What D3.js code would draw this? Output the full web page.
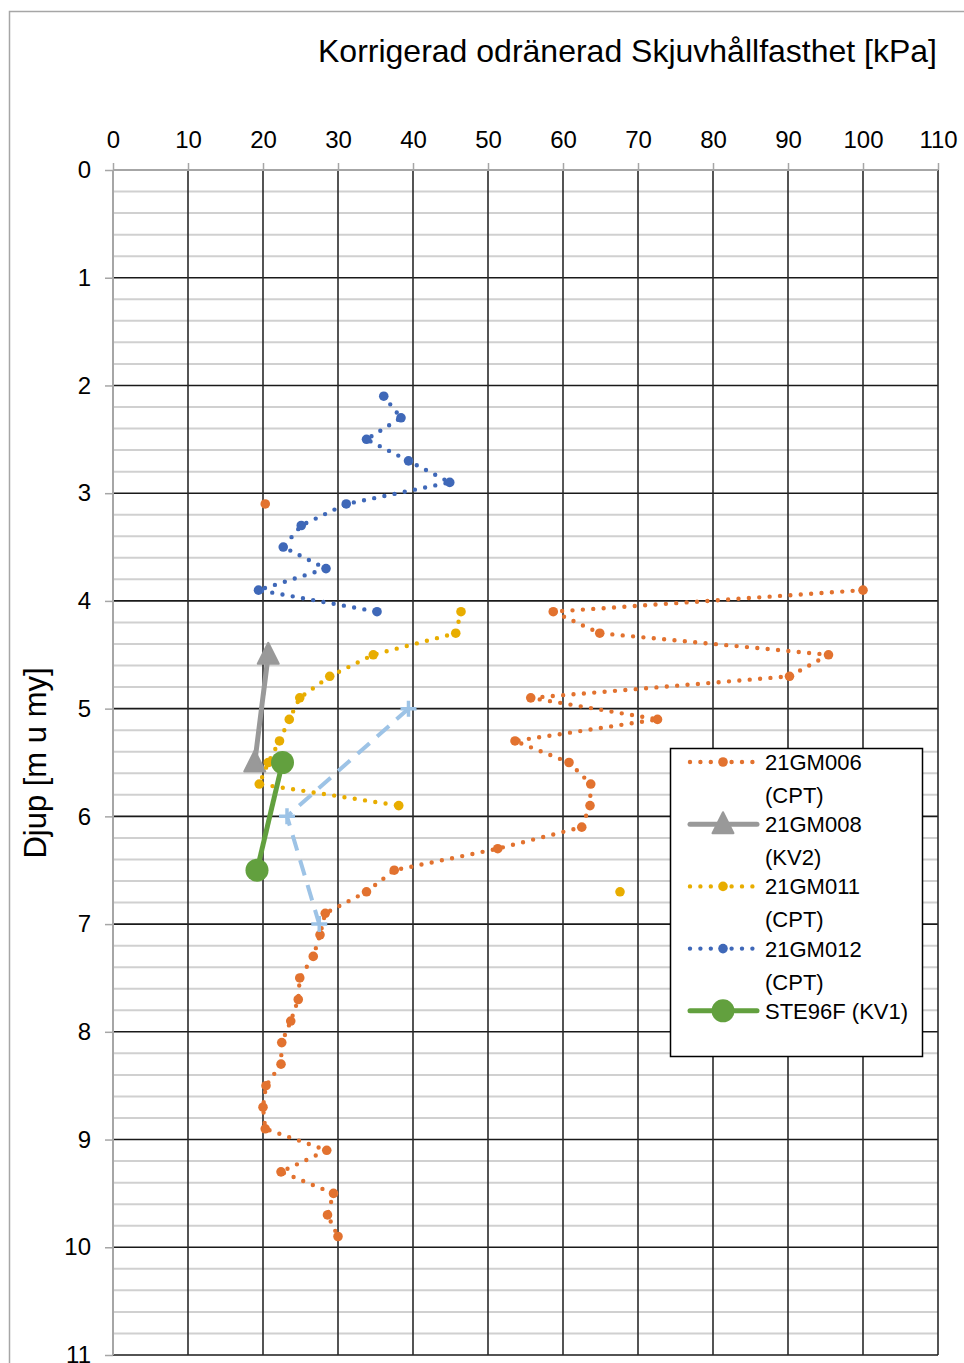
<!DOCTYPE html>
<html>
<head>
<meta charset="utf-8">
<script src="https://cdn.jsdelivr.net/npm/d3@7"></script>
<style>
body { margin: 0; background: #fff; }
text { font-family: "Liberation Sans", Arial, sans-serif; fill: #000; }
</style>
</head>
<body>
<script>
// axis ticks
var xTicks = [0, 10, 20, 30, 40, 50, 60, 70, 80, 90, 100, 110];
var yTicks = [0, 1, 2, 3, 4, 5, 6, 7, 8, 9, 10, 11];

// 21GM006 (CPT)
var depth006 = [3.1, 3.3, 3.5, 3.7, 3.9, 4.1, 4.3, 4.5, 4.7, 4.9, 5.1, 5.3, 5.5, 5.7, 5.9, 6.1, 6.3, 6.5,
	6.7, 6.9, 7.1, 7.3, 7.5, 7.7, 7.9, 8.1, 8.3, 8.5, 8.7, 8.9, 9.1, 9.3, 9.5, 9.7, 9.9];
var su006 = [20.3, null, null, null, 100, 58.7, 64.9, 95.4, 90.2, 55.7, 72.6, 53.6, 60.8, 63.7, 63.6, 62.5, 51.3, 37.5,
	33.8, 28.3, 27.6, 26.7, 24.9, 24.7, 23.7, 22.5, 22.4, 20.4, 20.0, 20.3, 28.5, 22.4, 29.4, 28.6, 30.0];

// 21GM008 (KV2)
var depth008 = [4.5, 5.5];
var su008 = [20.7, 18.9];

// 21GM011 (CPT)
var depth011 = [4.1, 4.3, 4.5, 4.7, 4.9, 5.1, 5.3, 5.5, 5.7, 5.9, 6.1, 6.3, 6.5, 6.7];
var su011 = [46.4, 45.7, 34.7, 28.9, 24.9, 23.5, 22.2, 20.7, 19.5, 38.1, null, null, null, 67.6];

// 21GM012 (CPT)
var depth012 = [2.1, 2.3, 2.5, 2.7, 2.9, 3.1, 3.3, 3.5, 3.7, 3.9, 4.1];
var su012 = [36.1, 38.4, 33.8, 39.4, 44.9, 31.1, 25.1, 22.7, 28.4, 19.4, 35.2];

// STE96F (KV1)
var depthSTE = [5.5, 6.5];
var suSTE = [22.6, 19.2];

// extra series, not in legend
var depthExtra = [5.0, 6.0, 7.0];
var suExtra = [39.4, 23.2, 27.5];

var width = 964;
var height = 1363;

var svg = d3
	.select("body")
	.append("svg")
	.attr("width", width)
	.attr("height", height);

svg.append("rect").attr("width", width).attr("height", height).attr("fill", "#fff");

// chart area border
svg.append("rect")
	.attr("x", 9.5).attr("y", 11.5)
	.attr("width", 1000).attr("height", 1400)
	.attr("fill", "none")
	.attr("stroke", "#a6a6a6")
	.attr("stroke-width", 1.5);

var x = d3.scaleLinear().domain([0, 110]).range([113, 938]);
var y = d3.scaleLinear().domain([0, 11]).range([170, 1355]);

// minor horizontal gridlines
var minor = d3.range(0, 55).map(function (i) { return i * 0.2; })
	.filter(function (v) { return Math.abs(v - Math.round(v)) > 0.01; });
svg.append("g").selectAll("line").data(minor).enter().append("line")
	.attr("x1", x(0)).attr("x2", x(110))
	.attr("y1", function (d) { return y(d); })
	.attr("y2", function (d) { return y(d); })
	.attr("stroke", "#d0d0d0").attr("stroke-width", 2);

// major gridlines
svg.append("g").selectAll("line").data(yTicks.slice(1)).enter().append("line")
	.attr("x1", x(0)).attr("x2", x(110))
	.attr("y1", function (d) { return y(d); })
	.attr("y2", function (d) { return y(d); })
	.attr("stroke", "#1a1a1a").attr("stroke-width", 1.6);
svg.append("g").selectAll("line").data(xTicks.slice(1)).enter().append("line")
	.attr("y1", y(0)).attr("y2", y(11))
	.attr("x1", function (d) { return x(d); })
	.attr("x2", function (d) { return x(d); })
	.attr("stroke", "#2a2a2a").attr("stroke-width", 1.6);

// axes
var xAxis = svg.append("g")
	.attr("transform", "translate(0," + y(0) + ")")
	.call(d3.axisTop(x).tickValues(xTicks).tickSize(7).tickPadding(15));
var yAxis = svg.append("g")
	.attr("transform", "translate(" + x(0) + ",0)")
	.call(d3.axisLeft(y).tickValues(yTicks).tickSize(8).tickPadding(14));

[xAxis, yAxis].forEach(function (a) {
	a.select(".domain").attr("stroke", "#a6a6a6").attr("stroke-width", 2);
	a.selectAll(".tick line").attr("stroke", "#a6a6a6").attr("stroke-width", 1.5);
	a.selectAll(".tick text")
		.style("font-family", "'Liberation Sans', Arial, sans-serif")
		.style("font-size", "24px")
		.attr("fill", "#000");
});
yAxis.select(".domain").attr("d", "M" + 0 + "," + y(0) + "V" + y(11));
xAxis.select(".domain").attr("d", "M" + x(0) + ",0H" + x(110));

// titles
svg.append("text")
	.attr("x", 937).attr("y", 62)
	.attr("text-anchor", "end")
	.style("font-size", "32px")
	.text("Korrigerad odränerad Skjuvhållfasthet [kPa]");

svg.append("text")
	.attr("transform", "translate(46,763) rotate(-90)")
	.attr("text-anchor", "middle")
	.style("font-size", "31px")
	.text("Djup [m u my]");

function pairs(depths, vals) {
	return depths.map(function (d, i) { return [d, vals[i]]; });
}

var line = d3.line()
	.defined(function (d) { return d[1] != null; })
	.x(function (d) { return x(d[1]); })
	.y(function (d) { return y(d[0]); });

function drawMarker(g, type, cx, cy, color) {
	if (type == "dot") {
		g.append("circle").attr("cx", cx).attr("cy", cy).attr("r", 4.8).attr("fill", color);
	} else if (type == "circle") {
		g.append("circle").attr("cx", cx).attr("cy", cy).attr("r", 11.5).attr("fill", color);
	} else if (type == "triangle") {
		g.append("path")
			.attr("d", "M" + cx + "," + (cy - 12) + "L" + (cx + 10.5) + "," + (cy + 9) + "L" + (cx - 10.5) + "," + (cy + 9) + "Z")
			.attr("fill", color).attr("stroke", color).attr("stroke-width", 2).attr("stroke-linejoin", "round");
	} else if (type == "plus") {
		g.append("path")
			.attr("d", "M" + (cx - 8) + "," + cy + "H" + (cx + 8) + "M" + cx + "," + (cy - 8) + "V" + (cy + 8))
			.attr("stroke", color).attr("stroke-width", 3.5);
	}
}

var series = [
	{ name: ["21GM006", "(CPT)"], data: pairs(depth006, su006), color: "#e2722f", width: 4.4, dash: "0 10.4", marker: "dot" },
	{ name: ["21GM008", "(KV2)"], data: pairs(depth008, su008), color: "#999999", width: 5, dash: null, marker: "triangle" },
	{ name: ["21GM011", "(CPT)"], data: pairs(depth011, su011), color: "#e8ad00", width: 4.4, dash: "0 10.4", marker: "dot" },
	{ name: ["21GM012", "(CPT)"], data: pairs(depth012, su012), color: "#3f68b8", width: 4.4, dash: "0 10.4", marker: "dot" },
	{ name: ["STE96F (KV1)"], data: pairs(depthSTE, suSTE), color: "#62a03e", width: 5, dash: null, marker: "circle" },
	{ name: null, data: pairs(depthExtra, suExtra), color: "#9dc3e6", width: 4, dash: "16 10", marker: "plus" }
];

series.forEach(function (s) {
	var g = svg.append("g");
	g.append("path")
		.attr("d", line(s.data))
		.attr("fill", "none")
		.attr("stroke", s.color)
		.attr("stroke-width", s.width)
		.attr("stroke-linecap", s.dash && s.dash.indexOf("0 ") == 0 ? "round" : "butt")
		.attr("stroke-dasharray", s.dash);
	s.data.filter(function (d) { return d[1] != null; }).forEach(function (d) {
		drawMarker(g, s.marker, x(d[1]), y(d[0]), s.color);
	});
});

// legend
var legend = svg.append("g");
legend.append("rect")
	.attr("x", 670.5).attr("y", 748.5)
	.attr("width", 252).attr("height", 308)
	.attr("fill", "#fff")
	.attr("stroke", "#000").attr("stroke-width", 1.5);

series.filter(function (s) { return s.name; }).forEach(function (s, i) {
	var cy = 762 + i * 62.2;
	var g = legend.append("g");
	g.append("line")
		.attr("x1", 690).attr("x2", 757)
		.attr("y1", cy).attr("y2", cy)
		.attr("stroke", s.color)
		.attr("stroke-width", s.width)
		.attr("stroke-linecap", "round")
		.attr("stroke-dasharray", s.dash ? "0 10.4" : null);
	drawMarker(g, s.marker, 723, cy, s.color);
	s.name.forEach(function (t, j) {
		g.append("text")
			.attr("x", 765).attr("y", cy + 8 + j * 33)
			.style("font-size", "22px")
			.text(t);
	});
});
</script>
</body>
</html>
